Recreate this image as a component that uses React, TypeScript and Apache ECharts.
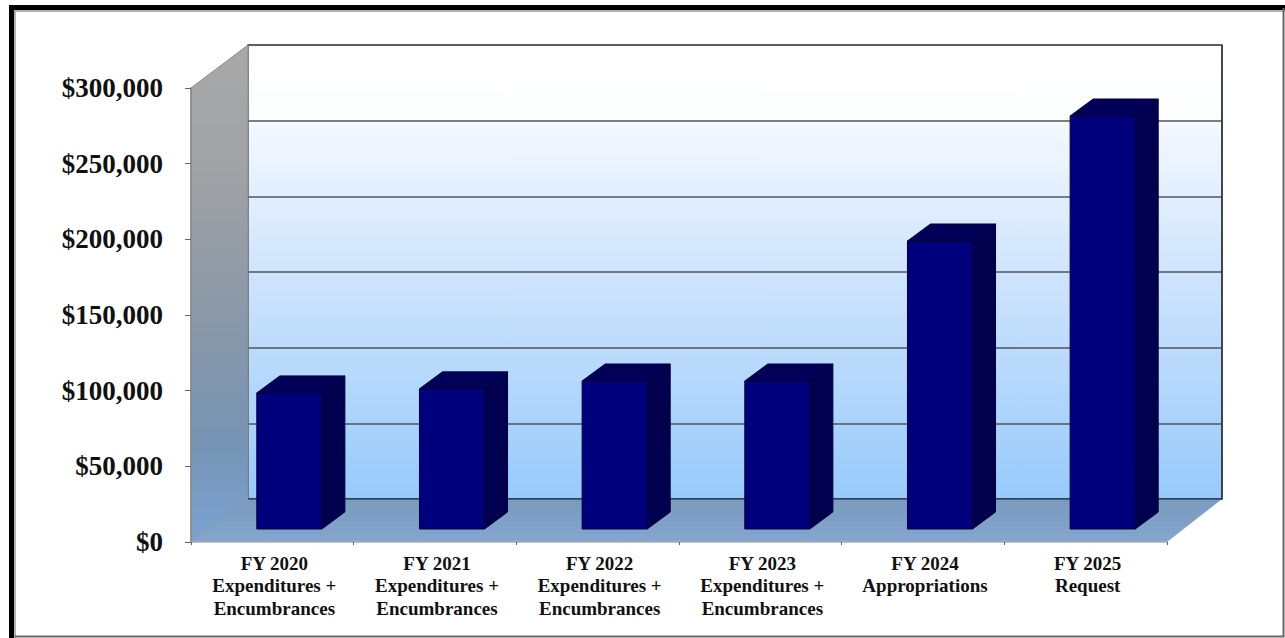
import React, { useEffect, useRef } from "react";
import * as echarts from "echarts";

const categories = [
  "FY 2020\nExpenditures +\nEncumbrances",
  "FY 2021\nExpenditures +\nEncumbrances",
  "FY 2022\nExpenditures +\nEncumbrances",
  "FY 2023\nExpenditures +\nEncumbrances",
  "FY 2024\nAppropriations",
  "FY 2025\nRequest",
];
const budgetValues = [89900, 92600, 97800, 97800, 190300, 272900];
const FONT = "'Liberation Serif', 'Times New Roman', serif";

const W = 1285;
const H = 638;
const front = { l: 191, r: 1167, t: 88, b: 542 };
const back = { l: 248, r: 1222, t: 45, b: 499 };

function grad(stops: [number, string][], x2 = 0, y2 = 1) {
  return new echarts.graphic.LinearGradient(0, 0, x2, y2, stops.map(([offset, color]) => ({ offset, color })));
}

export default function App() {
  const ref = useRef<HTMLDivElement>(null);
  useEffect(() => {
    const chart = echarts.init(ref.current!, undefined, { renderer: "svg", width: W, height: H });
    const renderBar = (_p: any, api: any) => {
      const base = api.coord([api.value(0), 0]);
      const top = api.coord([api.value(0), api.value(1)]);
      const w = api.size([1, 0])[0] * 0.4;
      const x0 = base[0] - w / 2 + 17;
      const x1 = x0 + w;
      const yb = base[1] - 13;
      const yt = top[1] - 13;
      const dx = 23;
      const dy = 17;
      const edge = { stroke: "#00003a", lineWidth: 1 };
      return {
        type: "group",
        children: [
          {
            type: "polygon",
            shape: { points: [[x1, yb], [x1 + dx, yb - dy], [x1 + dx, yt - dy], [x1, yt]] },
            style: { fill: "#00004f", ...edge },
          },
          {
            type: "polygon",
            shape: { points: [[x0, yt], [x0 + dx, yt - dy], [x1 + dx, yt - dy], [x1, yt]] },
            style: { fill: "#000058", ...edge },
          },
          {
            type: "polygon",
            shape: { points: [[x0, yb], [x1, yb], [x1, yt], [x0, yt]] },
            style: { fill: "#00007c", ...edge },
          },
        ],
      };
    };
    chart.setOption({
      animation: false,
      backgroundColor: "#ffffff",
      grid: [
        { left: front.l, right: W - front.r, top: front.t, bottom: H - front.b, show: false },
        {
          left: back.l,
          right: W - back.r,
          top: back.t,
          bottom: H - back.b,
          show: true,
          borderColor: "#555",
          borderWidth: 1.5,
          backgroundColor: grad([
            [0, "#ffffff"],
            [0.16, "#fdfeff"],
            [0.18, "#f3f8ff"],
            [0.5, "#cfe4fd"],
            [1, "#97cafb"],
          ]),
        },
      ],
      xAxis: [
        {
          type: "category",
          gridIndex: 0,
          data: categories,
          z: 6,
          axisLine: { lineStyle: { color: "#aaa", width: 1.5 } },
          axisTick: { show: true, length: 3, alignWithLabel: false, lineStyle: { color: "#666" } },
          axisLabel: {
            interval: 0,
            margin: 10,
            fontFamily: FONT,
            fontWeight: "bold",
            fontSize: 19,
            lineHeight: 22.5,
            color: "#111",
            padding: [0, 0, 0, 4],
          },
        },
        { type: "category", gridIndex: 1, data: categories, show: false },
      ],
      yAxis: [
        {
          type: "value",
          gridIndex: 0,
          min: 0,
          max: 300000,
          interval: 50000,
          z: 6,
          splitLine: { show: false },
          axisLine: { show: true, lineStyle: { color: "#888", width: 1.5 } },
          axisTick: { show: true, length: 6, lineStyle: { color: "#666" } },
          axisLabel: {
            margin: 28,
            fontFamily: FONT,
            fontWeight: "bold",
            fontSize: 27,
            color: "#111",
            formatter: (v: number) => "$" + v.toLocaleString("en-US"),
          },
        },
        {
          type: "value",
          gridIndex: 1,
          min: 0,
          max: 300000,
          interval: 50000,
          axisLine: { show: false },
          axisTick: { show: false },
          axisLabel: { show: false },
          splitLine: { show: true, lineStyle: { color: "#4f555a", width: 1.5 } },
        },
      ],
      series: [
        {
          type: "custom",
          xAxisIndex: 0,
          yAxisIndex: 0,
          z: 5,
          clip: false,
          renderItem: renderBar,
          data: budgetValues.map((v, i) => [i, v]),
        },
      ],
      graphic: [
        {
          type: "polygon",
          z: 1,
          silent: true,
          shape: { points: [[front.l, front.t], [back.l, back.t], [back.l, back.b], [front.l, front.b]] },
          style: {
            fill: grad([[0, "#a9a9a9"], [0.25, "#a0a2a5"], [0.55, "#8a98a8"], [0.8, "#7594b4"], [1, "#7ba3d3"]]),
            stroke: "#888",
            lineWidth: 1,
          },
        },
        {
          type: "polygon",
          z: 1,
          silent: true,
          shape: { points: [[front.l, front.b], [back.l, back.b], [back.r, back.b], [front.r, front.b]] },
          style: { fill: grad([[0, "#7a9abd"], [1, "#84a6d0"]]) },
        },
        {
          type: "line",
          z: 2,
          silent: true,
          shape: { x1: back.l, y1: back.b, x2: back.r, y2: back.b },
          style: { stroke: "#0b2a4a", lineWidth: 1.2 },
        },
        {
          type: "line",
          z: 2,
          silent: true,
          shape: { x1: back.r, y1: back.t, x2: back.r, y2: back.b },
          style: { stroke: "#2e3338", lineWidth: 1.5 },
        },
        {
          type: "polyline",
          z: 20,
          silent: true,
          shape: { points: [[11.5, H], [11.5, 7.5], [W, 7.5]] },
          style: { fill: "none", stroke: "#000", lineWidth: 5 },
        },
        {
          type: "polyline",
          z: 21,
          silent: true,
          shape: { points: [[15, H], [15, 11], [W, 11]] },
          style: { fill: "none", stroke: "#999", lineWidth: 1.5 },
        },
        {
          type: "polyline",
          z: 21,
          silent: true,
          shape: { points: [[15, 636.5], [1283.5, 636.5], [1283.5, 8]] },
          style: { fill: "none", stroke: "#666", lineWidth: 2 },
        },
      ],
    });
    return () => chart.dispose();
  }, []);
  return <div ref={ref} style={{ position: "fixed", left: 0, top: 0, width: W, height: H }} />;
}
